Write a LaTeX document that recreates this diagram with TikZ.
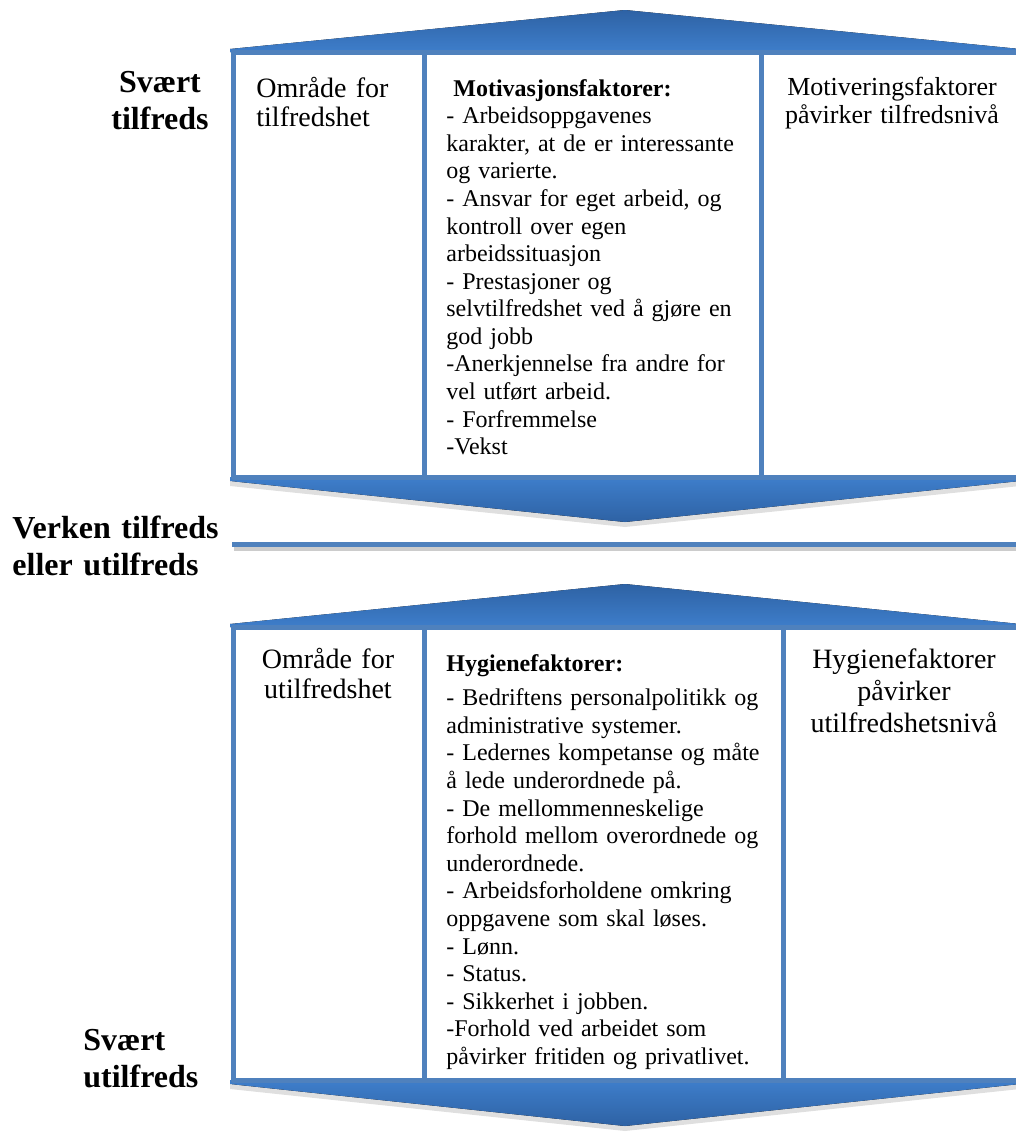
\documentclass[tikz,border=0pt]{standalone}
\usepackage{fontspec}
\setmainfont{Liberation Serif}
\usetikzlibrary{shadows}
\definecolor{framecol}{HTML}{4F81BD}
\definecolor{arrowlight}{HTML}{3E7ECB}
\definecolor{arrowdark}{HTML}{2E62A4}
\tikzset{
  frameline/.style={draw=framecol, line width=2.5pt, line join=round},
  uparrow/.style={top color=arrowdark, bottom color=arrowlight},
  downarrow/.style={top color=arrowlight, bottom color=arrowdark,
    drop shadow={shadow xshift=0pt, shadow yshift=-2.5pt, opacity=0.25}},
  scalelabel/.style={inner sep=0pt, text width=125pt, font=\fontsize{16}{18.5}\selectfont\bfseries},
  sidetext/.style={inner sep=0pt, anchor=base, text width=130pt, align=center},
  listtext/.style={inner sep=0pt, anchor=base west, text width=165pt, align=left,
    font=\fontsize{12}{13.8}\selectfont}
}
\begin{document}
\begin{tikzpicture}[x=0.5pt, y=-0.5pt]
\useasboundingbox (0,0) rectangle (1016,1135);
\clip (0,0) rectangle (1016,1135);
%draw upper part
\fill[uparrow] (230,52) -- (230,49) -- (625,10) -- (1020,49) -- (1020,52) -- cycle;
\fill[downarrow] (230,477) -- (1020,477) -- (1020,481) -- (625,522) -- (230,481) -- cycle;
\draw[frameline, fill=white] (233,52) rectangle (1030,477);
\foreach \x in {424, 761}{
\draw[frameline] (\x,52) -- (\x,477); }
%draw middle line
\draw[black!20, line width=2.5pt] (234,548) -- (1020,548);
\draw[framecol, line width=2.5pt] (232,544) -- (1020,544);
%draw lower part
\fill[uparrow] (230,627) -- (230,624) -- (625,584) -- (1020,624) -- (1020,627) -- cycle;
\fill[downarrow] (230,1080) -- (1020,1080) -- (1020,1084) -- (625,1126) -- (230,1084) -- cycle;
\draw[frameline, fill=white] (233,627) rectangle (1030,1080);
\foreach \x in {424, 783}{
\draw[frameline] (\x,627) -- (\x,1080); }
%draw labels on the left
\node[scalelabel, anchor=base, align=center] (verysat) at (160,92) {Svært\\tilfreds};
\node[scalelabel, anchor=base west, align=left] (neutral) at (12,538) {Verken tilfreds\\eller utilfreds};
\node[scalelabel, anchor=base west, align=left] (verydis) at (83,1050) {Svært\\utilfreds};
%draw texts in upper box
\node[inner sep=0pt, anchor=base west, text width=90pt, align=left, font=\fontsize{14}{14.5}\selectfont] (satarea) at (256,97) {Område for\\tilfredshet};
\node[listtext] (motivlist) at (446,96) {\textbf{\hspace*{3.5pt}Motivasjonsfaktorer:}\\
- Arbeidsoppgavenes\\
karakter, at de er interessante\\
og varierte.\\
- Ansvar for eget arbeid, og\\
kontroll over egen\\
arbeidssituasjon\\
- Prestasjoner og\\
selvtilfredshet ved å gjøre en\\
god jobb\\
-Anerkjennelse fra andre for\\
vel utført arbeid.\\
- Forfremmelse\\
-Vekst};
\node[sidetext, font=\fontsize{13}{14}\selectfont] (motivnote) at (892,95) {Motiveringsfaktorer\\påvirker tilfredsnivå};
%draw texts in lower box
\node[sidetext, font=\fontsize{14}{15}\selectfont] (disarea) at (328,668) {Område for\\utilfredshet};
\node[listtext] (hygienelist) at (446,671) {\textbf{Hygienefaktorer:}\\[3.5pt]
- Bedriftens personalpolitikk og\\
administrative systemer.\\
- Ledernes kompetanse og måte\\
å lede underordnede på.\\
- De mellommenneskelige\\
forhold mellom overordnede og\\
underordnede.\\
- Arbeidsforholdene omkring\\
oppgavene som skal løses.\\
- Lønn.\\
- Status.\\
- Sikkerhet i jobben.\\
-Forhold ved arbeidet som\\
påvirker fritiden og privatlivet.};
\node[sidetext, font=\fontsize{14}{16}\selectfont] (hygienenote) at (904,668) {Hygienefaktorer\\påvirker\\utilfredshetsnivå};
\end{tikzpicture}
\end{document}
